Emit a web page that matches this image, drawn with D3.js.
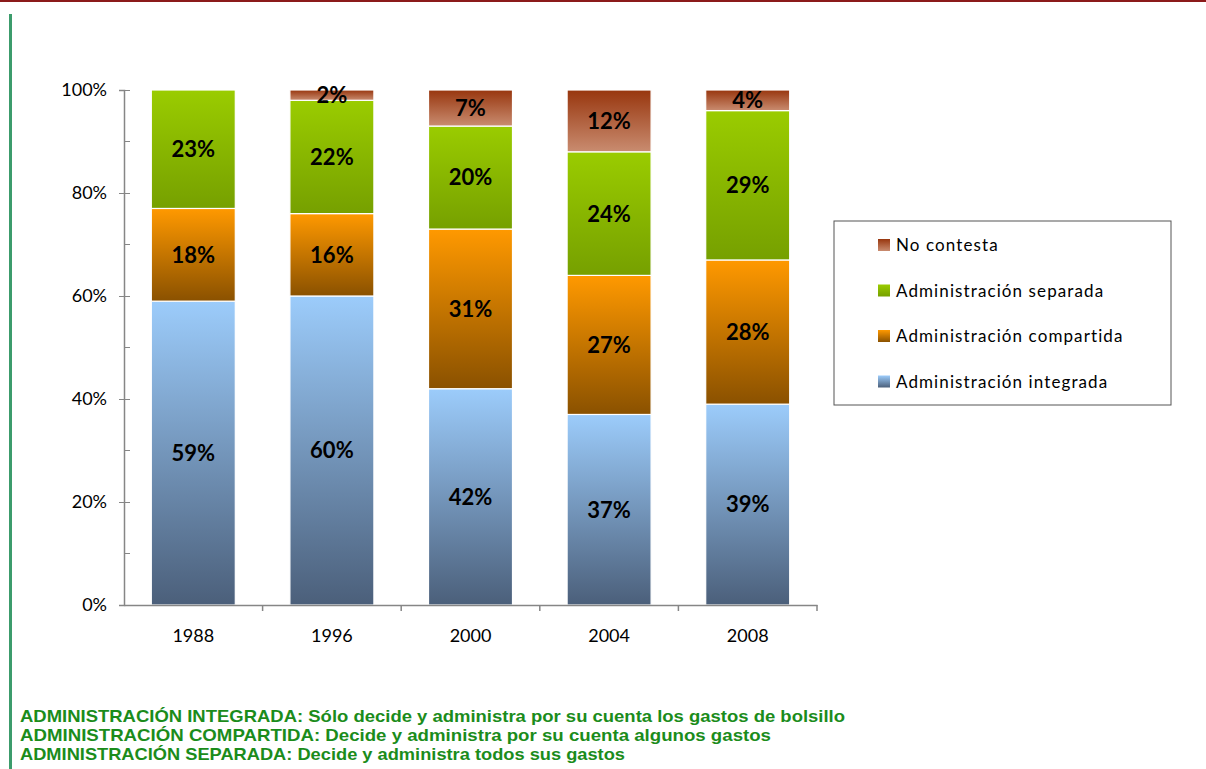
<!DOCTYPE html>
<html>
<head>
<meta charset="utf-8">
<script src="https://cdn.jsdelivr.net/npm/d3@7.9.0/dist/d3.min.js"></script>
<style>
  body { margin: 0; background: #fff; }
  svg { display: block; }
</style>
</head>
<body>
<svg id="chart" width="1206" height="769"></svg>
<script>
const years = ['1988', '1996', '2000', '2004', '2008'];
const integrada  = [59, 60, 42, 37, 39];
const compartida = [18, 16, 31, 27, 28];
const separada   = [23, 22, 20, 24, 29];
const noContesta = [0, 2, 7, 12, 4];
const yTicks = [0, 20, 40, 60, 80, 100];
const notes = [
  'ADMINISTRACIÓN INTEGRADA: Sólo decide y administra por su cuenta los gastos de bolsillo',
  'ADMINISTRACIÓN COMPARTIDA: Decide y administra por su cuenta algunos gastos',
  'ADMINISTRACIÓN SEPARADA: Decide y administra todos sus gastos'
];
const noteWidths = [825, 751, 605];

const series = [
  { key: 'integrada',  name: 'Administración integrada',  values: integrada,  top: '#9cccfb', bottom: '#4b5f7a' },
  { key: 'compartida', name: 'Administración compartida', values: compartida, top: '#ff9900', bottom: '#8a5100' },
  { key: 'separada',   name: 'Administración separada',   values: separada,   top: '#9acc00', bottom: '#76a000' },
  { key: 'nc',         name: 'No contesta',               values: noContesta, top: '#98360e', bottom: '#c98c70' }
];

const svg = d3.select('#chart');
const font = 'Lato, "Open Sans", sans-serif';

// page decorations
svg.append('rect').attr('x', 0).attr('y', 0).attr('width', 1206).attr('height', 2).attr('fill', '#8b1a1a');
svg.append('rect').attr('x', 9).attr('y', 14).attr('width', 3).attr('height', 755).attr('fill', '#3c9c6c');

const defs = svg.append('defs');
series.forEach(s => {
  const g = defs.append('linearGradient')
    .attr('id', 'grad-' + s.key)
    .attr('x1', 0).attr('y1', 0).attr('x2', 0).attr('y2', 1);
  g.append('stop').attr('offset', '0%').attr('stop-color', s.top);
  g.append('stop').attr('offset', '100%').attr('stop-color', s.bottom);
});

const x = d3.scaleBand().domain(years).range([124, 817]).paddingInner(0.394).paddingOuter(0.197);
const y = d3.scaleLinear().domain([0, 100]).range([605, 90]);

// stacked data
const table = years.map((yr, i) => {
  const row = { year: yr };
  series.forEach(s => { row[s.key] = s.values[i]; });
  return row;
});
const stack = d3.stack().keys(series.map(s => s.key))(table);

const layers = svg.append('g').selectAll('g')
  .data(stack)
  .join('g')
  .attr('fill', d => `url(#grad-${d.key})`);

layers.selectAll('rect')
  .data(d => d.filter(p => p[1] - p[0] > 0))
  .join('rect')
  .attr('x', d => x(d.data.year))
  .attr('width', x.bandwidth())
  .attr('y', d => y(d[1]))
  .attr('height', d => y(d[0]) - y(d[1]))
  .attr('stroke', '#fff')
  .attr('stroke-width', 1.2);

layers.selectAll('text')
  .data(d => d.filter(p => p[1] - p[0] > 0))
  .join('text')
  .attr('x', d => x(d.data.year) + x.bandwidth() / 2)
  .attr('y', d => (y(d[0]) + y(d[1])) / 2)
  .attr('dy', '0.36em')
  .attr('text-anchor', 'middle')
  .attr('fill', '#000')
  .style('font', `bold 22px ${font}`)
  .text(d => (d[1] - d[0]) + '%');

// y axis
const yAxis = svg.append('g').attr('transform', 'translate(124,0)')
  .call(d3.axisLeft(y).tickValues(yTicks).tickFormat(d => d + '%').tickSize(5).tickPadding(12));
yAxis.select('.domain').attr('stroke', '#868686').attr('stroke-width', 1.5);
yAxis.selectAll('.tick line').attr('stroke', '#868686').attr('x2', -5).attr('x1', 6);
yAxis.selectAll('.tick text').style('font', `18px ${font}`).attr('fill', '#000');

// minor ticks
svg.append('g').selectAll('line')
  .data(d3.range(10, 100, 20))
  .join('line')
  .attr('x1', 124).attr('x2', 130)
  .attr('y1', d => y(d)).attr('y2', d => y(d))
  .attr('stroke', '#868686');

// x axis
const xAxis = svg.append('g').attr('transform', 'translate(0,605)')
  .call(d3.axisBottom(x).tickSize(0).tickPadding(24));
xAxis.select('.domain').attr('stroke', '#868686').attr('stroke-width', 1.5);
xAxis.selectAll('.tick text').style('font', `18px ${font}`).attr('fill', '#000');
const step = x.step();
svg.append('g').selectAll('line')
  .data(d3.range(1, years.length + 1))
  .join('line')
  .attr('x1', i => 124 + i * step).attr('x2', i => 124 + i * step)
  .attr('y1', 605).attr('y2', 611)
  .attr('stroke', '#868686').attr('stroke-width', 1.5);

// legend
const legend = svg.append('g').attr('transform', 'translate(834,221)');
legend.append('rect').attr('width', 337).attr('height', 184)
  .attr('fill', '#fff').attr('stroke', '#555').attr('stroke-width', 1);
const legendItems = series.slice().reverse();
const li = legend.selectAll('g.item')
  .data(legendItems)
  .join('g')
  .attr('class', 'item')
  .attr('transform', (d, i) => `translate(44,${24 + i * 45.5})`);
li.append('rect').attr('x', 0).attr('y', -6).attr('width', 12).attr('height', 12)
  .attr('fill', d => `url(#grad-${d.key})`);
li.append('text').attr('x', 18).attr('dy', '0.36em')
  .style('font', `17px ${font}`).style('letter-spacing', '1.1px')
  .attr('fill', '#000')
  .text(d => d.name);

// notes
svg.append('g').selectAll('text')
  .data(notes)
  .join('text')
  .attr('x', 20)
  .attr('y', (d, i) => 722 + i * 19)
  .attr('fill', '#1b8c1b')
  .attr('textLength', (d, i) => noteWidths[i])
  .attr('lengthAdjust', 'spacingAndGlyphs')
  .style('font', 'bold 17px "Liberation Sans", sans-serif')
  .text(d => d);
</script>
</body>
</html>
